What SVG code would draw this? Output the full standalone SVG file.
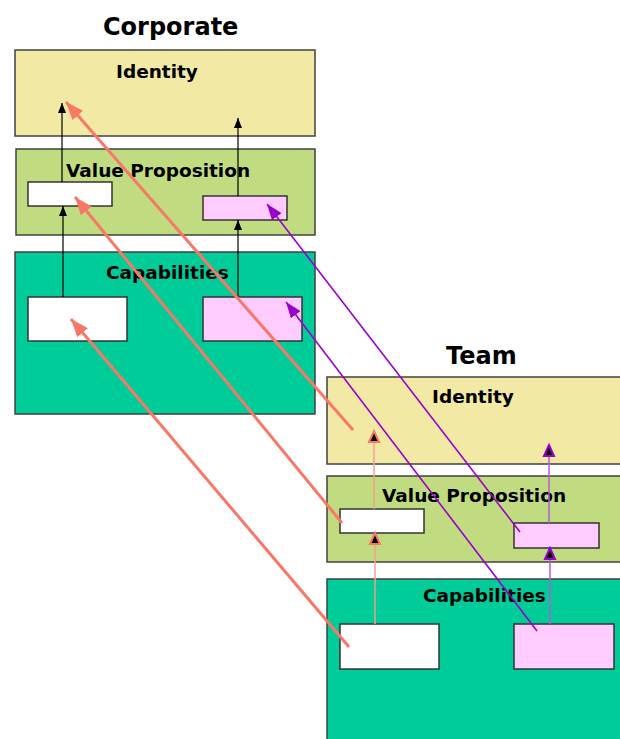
<svg xmlns="http://www.w3.org/2000/svg" width="620" height="739" viewBox="0 0 620 739">
  <style>
    .title { font-family: "DejaVu Sans", "Liberation Sans", sans-serif; font-weight: bold; font-size: 24px; fill: #000; }
    .label { font-family: "DejaVu Sans", "Liberation Sans", sans-serif; font-weight: bold; font-size: 18.5px; fill: #000; }
    .layer { stroke: #404040; stroke-width: 1.5; }
    .identity { fill: #f2eaa4; }
    .value { fill: #c1dc80; }
    .capab { fill: #00cc99; }
    .item { stroke: #333; stroke-width: 1.5; }
    .white { fill: #ffffff; }
    .pink { fill: #ffccff; }
    .dep { stroke: #000; stroke-width: 1.2; fill: none; }
    .dep-s { stroke: #f4a08c; stroke-width: 1.5; fill: none; }
    .dep-p { stroke: #b85ad6; stroke-width: 1.5; fill: none; }
    .link-s { stroke: #f87868; stroke-width: 3; fill: none; }
    .link-p { stroke: #9900cc; stroke-width: 1.6; fill: none; }
  </style>
  <defs>
    <marker id="hBlack" markerUnits="userSpaceOnUse" viewBox="0 0 10 8" refX="10" refY="4" markerWidth="10" markerHeight="8" orient="auto">
      <path d="M0,0 L10,4 L0,8 z" fill="#000"/>
    </marker>
    <marker id="hSalmonSmall" markerUnits="userSpaceOnUse" viewBox="-2 -2 15 14" refX="11" refY="5" markerWidth="15" markerHeight="14" orient="auto">
      <path d="M0,0 L11,5 L0,10 z" fill="#000" stroke="#f87868" stroke-width="2"/>
    </marker>
    <marker id="hPurpleSmall" markerUnits="userSpaceOnUse" viewBox="-2 -2 15 14" refX="11" refY="5" markerWidth="15" markerHeight="14" orient="auto">
      <path d="M0,0 L11,5 L0,10 z" fill="#000" stroke="#9900cc" stroke-width="2"/>
    </marker>
    <marker id="hSalmon" markerUnits="userSpaceOnUse" viewBox="0 0 18 14" refX="18" refY="7" markerWidth="18" markerHeight="14" orient="auto">
      <path d="M0,0 L18,7 L0,14 z" fill="#f87868"/>
    </marker>
    <marker id="hPurple" markerUnits="userSpaceOnUse" viewBox="0 0 16 12" refX="16" refY="6" markerWidth="16" markerHeight="12" orient="auto">
      <path d="M0,0 L16,6 L0,12 z" fill="#9900cc"/>
    </marker>
  </defs>

  <!-- Corporate column -->
  <text class="title" x="103" y="35">Corporate</text>

  <g id="corp-identity">
    <rect class="layer identity" x="15" y="50" width="300" height="86"/>
    <text class="label" x="116" y="78">Identity</text>
  </g>
  <g id="corp-value">
    <rect class="layer value" x="16" y="149" width="299" height="86"/>
    <text class="label" x="66" y="177">Value Proposition</text>
  </g>
  <g id="corp-value-a">
    <rect class="item white" x="28" y="182" width="84" height="24"/>
  </g>
  <g id="corp-value-b">
    <rect class="item pink" x="203" y="196" width="84" height="24"/>
  </g>
  <g id="corp-capab">
    <rect class="layer capab" x="15" y="252" width="300" height="162"/>
    <text class="label" x="106" y="279">Capabilities</text>
  </g>
  <g id="corp-capab-a">
    <rect class="item white" x="28" y="297" width="99" height="44"/>
  </g>
  <g id="corp-capab-b">
    <rect class="item pink" x="203" y="297" width="99" height="44"/>
  </g>

  <!-- Team column -->
  <text class="title" x="446" y="364">Team</text>

  <g id="team-identity">
    <rect class="layer identity" x="327" y="377" width="300" height="87"/>
    <text class="label" x="432" y="403">Identity</text>
  </g>
  <g id="team-value">
    <rect class="layer value" x="327" y="476" width="300" height="86"/>
    <text class="label" x="382" y="502">Value Proposition</text>
  </g>
  <g id="team-value-a">
    <rect class="item white" x="340" y="509" width="84" height="24"/>
  </g>
  <g id="team-value-b">
    <rect class="item pink" x="514" y="523" width="85" height="25"/>
  </g>
  <g id="team-capab">
    <rect class="layer capab" x="327" y="579" width="300" height="170"/>
    <text class="label" x="423" y="602">Capabilities</text>
  </g>
  <g id="team-capab-a">
    <rect class="item white" x="340" y="624" width="99" height="45"/>
  </g>
  <g id="team-capab-b">
    <rect class="item pink" x="514" y="624" width="100" height="45"/>
  </g>

  <!-- Connectors -->
  <g id="connectors">
    <!-- corporate dependencies -->
    <line class="dep" x1="62" y1="182" x2="62" y2="103" marker-end="url(#hBlack)"/>
    <line class="dep" x1="238" y1="196" x2="238" y2="118" marker-end="url(#hBlack)"/>
    <line class="dep" x1="63" y1="297" x2="63" y2="206" marker-end="url(#hBlack)"/>
    <line class="dep" x1="238" y1="297" x2="238" y2="220" marker-end="url(#hBlack)"/>

    <!-- team dependencies -->
    <line class="dep-s" x1="374" y1="509" x2="374" y2="431" marker-end="url(#hSalmonSmall)"/>
    <line class="dep-s" x1="375" y1="624" x2="375" y2="533" marker-end="url(#hSalmonSmall)"/>
    <line class="dep-p" x1="549" y1="523" x2="549" y2="445" marker-end="url(#hPurpleSmall)"/>
    <line class="dep-p" x1="550" y1="624" x2="550" y2="548" marker-end="url(#hPurpleSmall)"/>

    <!-- team to corporate alignment -->
    <line class="link-s" x1="353" y1="430" x2="66" y2="102" marker-end="url(#hSalmon)"/>
    <line class="link-s" x1="342" y1="523" x2="75" y2="197" marker-end="url(#hSalmon)"/>
    <line class="link-s" x1="349" y1="647" x2="71" y2="319" marker-end="url(#hSalmon)"/>
    <line class="link-p" x1="520" y1="532" x2="267" y2="204" marker-end="url(#hPurple)"/>
    <line class="link-p" x1="537" y1="631" x2="286" y2="302" marker-end="url(#hPurple)"/>
  </g>
</svg>
